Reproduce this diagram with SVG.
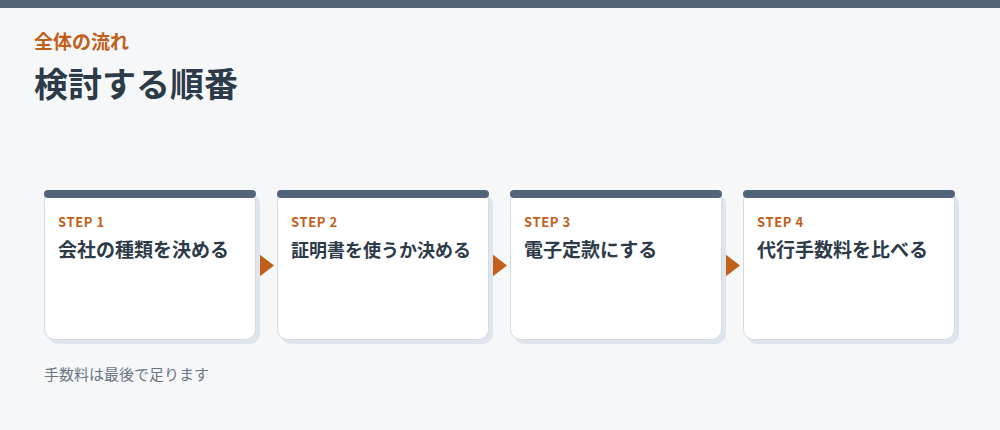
<svg xmlns="http://www.w3.org/2000/svg" width="1000" height="430" viewBox="0 0 1000 430">
<defs>
<style>
.jp{font-family:"Noto Sans CJK JP","Noto Sans",sans-serif;}
.shadow{fill:#dfe5ec;}
.card{fill:#ffffff;stroke:#d3dae2;stroke-width:1;}
.bar{fill:#546478;}
.step{font-size:13px;font-weight:700;fill:#c0601a;letter-spacing:0.6px;}
.ttl{font-size:19px;font-weight:700;fill:#2d3a48;}
.ttl.sm{font-size:18px;}
.arrow{fill:#c0601a;}
</style>
</defs>
<rect x="0" y="0" width="1000" height="430" fill="#f5f7f9"/>
<rect x="0" y="0" width="1000" height="8" fill="#546478"/>
<text class="jp" x="34" y="49" font-size="19" font-weight="700" fill="#c0601a">全体の流れ</text>
<text class="jp" x="34" y="97" font-size="34" font-weight="700" fill="#2d3a48">検討する順番</text>

<g id="connectors">
<polygon class="arrow" points="259,254 274,265.5 259,277"/>
<polygon class="arrow" points="492,254 507,265.5 492,277"/>
<polygon class="arrow" points="725,254 740,265.5 725,277"/>
</g>

<g id="step1">
<rect class="shadow" x="48" y="194" width="212" height="150" rx="10"/>
<rect class="card" x="44.5" y="190.5" width="211" height="149" rx="10"/>
<rect class="bar" x="44" y="190" width="212" height="8" rx="4"/>
<text class="jp step" x="58" y="227">STEP 1</text>
<text class="jp ttl" x="58" y="257">会社の種類を決める</text>
</g>
<g id="step2">
<rect class="shadow" x="281" y="194" width="212" height="150" rx="10"/>
<rect class="card" x="277.5" y="190.5" width="211" height="149" rx="10"/>
<rect class="bar" x="277" y="190" width="212" height="8" rx="4"/>
<text class="jp step" x="291" y="227">STEP 2</text>
<text class="jp ttl sm" x="291" y="257">証明書を使うか決める</text>
</g>
<g id="step3">
<rect class="shadow" x="514" y="194" width="212" height="150" rx="10"/>
<rect class="card" x="510.5" y="190.5" width="211" height="149" rx="10"/>
<rect class="bar" x="510" y="190" width="212" height="8" rx="4"/>
<text class="jp step" x="524" y="227">STEP 3</text>
<text class="jp ttl" x="524" y="257">電子定款にする</text>
</g>
<g id="step4">
<rect class="shadow" x="747" y="194" width="212" height="150" rx="10"/>
<rect class="card" x="743.5" y="190.5" width="211" height="149" rx="10"/>
<rect class="bar" x="743" y="190" width="212" height="8" rx="4"/>
<text class="jp step" x="757" y="227">STEP 4</text>
<text class="jp ttl" x="757" y="257">代行手数料を比べる</text>
</g>

<text class="jp" x="44" y="380" font-size="15" fill="#6b7682">手数料は最後で足ります</text>
</svg>
